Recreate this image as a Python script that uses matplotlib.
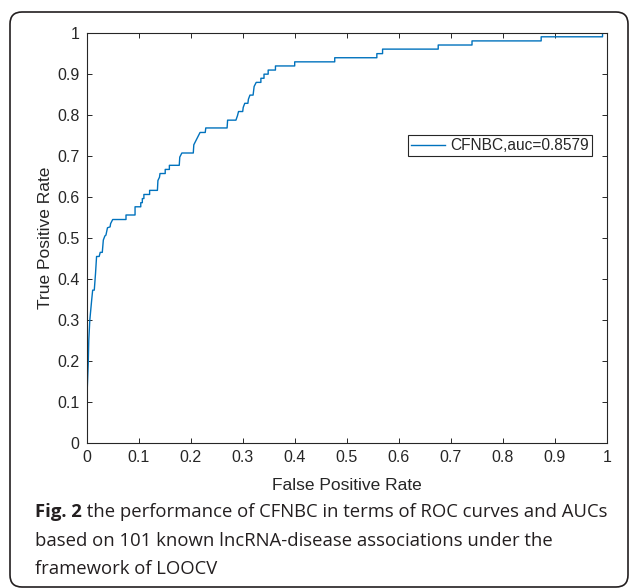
import matplotlib
matplotlib.use("Agg")
import matplotlib.pyplot as plt
from matplotlib.patches import FancyBboxPatch
from matplotlib.ticker import FormatStrFormatter

# ROC curve vertices (false positive rate, true positive rate)
fpr = [0.0, 0.001, 0.003, 0.004, 0.006, 0.0096, 0.0115, 0.0146, 0.017, 0.019,
       0.024, 0.026, 0.030, 0.032, 0.035, 0.037, 0.040, 0.045, 0.046, 0.050,
       0.0756, 0.0756, 0.093, 0.093, 0.104, 0.104, 0.107, 0.107, 0.110, 0.110,
       0.121, 0.121, 0.136, 0.137, 0.140, 0.141, 0.151, 0.151, 0.159, 0.159,
       0.178, 0.179, 0.183, 0.205, 0.206, 0.210, 0.214, 0.218, 0.228, 0.229,
       0.270, 0.271, 0.287, 0.290, 0.292, 0.300, 0.301, 0.304, 0.310, 0.311,
       0.314, 0.320, 0.322, 0.326, 0.335, 0.335, 0.341, 0.341, 0.349, 0.349,
       0.363, 0.363, 0.400, 0.400, 0.477, 0.477, 0.558, 0.558, 0.569, 0.569,
       0.676, 0.676, 0.741, 0.741, 0.874, 0.874, 0.992, 0.992, 1.0]
tpr = [0.0, 0.13, 0.195, 0.25, 0.30, 0.349, 0.373, 0.373, 0.414, 0.455,
       0.455, 0.465, 0.465, 0.495, 0.505, 0.507, 0.525, 0.527, 0.535, 0.545,
       0.545, 0.556, 0.556, 0.576, 0.576, 0.586, 0.586, 0.596, 0.596, 0.606,
       0.606, 0.616, 0.616, 0.640, 0.648, 0.657, 0.657, 0.667, 0.667, 0.677,
       0.677, 0.697, 0.707, 0.707, 0.727, 0.737, 0.747, 0.757, 0.757, 0.768,
       0.768, 0.787, 0.787, 0.798, 0.808, 0.808, 0.818, 0.828, 0.828, 0.838,
       0.848, 0.848, 0.869, 0.879, 0.879, 0.889, 0.889, 0.899, 0.899, 0.909,
       0.909, 0.919, 0.919, 0.929, 0.929, 0.939, 0.939, 0.949, 0.949, 0.960,
       0.960, 0.970, 0.970, 0.980, 0.980, 0.990, 0.990, 1.0, 1.0]
legend_label = 'CFNBC,auc=0.8579'
ticks = [0, 0.1, 0.2, 0.3, 0.4, 0.5, 0.6, 0.7, 0.8, 0.9, 1]

grey = '#262626'
plt.rcParams['font.family'] = ['Liberation Sans', 'DejaVu Sans']

fig = plt.figure(figsize=(6.3, 5.88), dpi=100)
ax = fig.add_axes([0.1376, 0.2461, 0.8254, 0.6983])

ax.plot(fpr, tpr, color='#0072BD', lw=1.0, label=legend_label)

ax.set_xlim(0, 1)
ax.set_ylim(0, 1)
ax.set_xticks(ticks)
ax.set_yticks(ticks)
ax.xaxis.set_major_formatter(FormatStrFormatter('%g'))
ax.yaxis.set_major_formatter(FormatStrFormatter('%g'))
ax.tick_params(direction='in', length=3.5, width=0.7, colors=grey,
               labelsize=11.5, top=True, right=True, pad=5)
for s in ax.spines.values():
    s.set_color(grey)
    s.set_linewidth(0.8)

ax.set_xlabel('False Positive Rate', fontsize=12.5, color=grey, labelpad=9)
ax.set_ylabel('True Positive Rate', fontsize=12.5, color=grey, labelpad=3)

leg = ax.legend(loc='upper left', bbox_to_anchor=(0.618, 0.751), borderaxespad=0,
                fancybox=False, fontsize=11.2, handlelength=2.2,
                handletextpad=0.3, borderpad=0.2, framealpha=1)
leg.get_frame().set_edgecolor(grey)
leg.get_frame().set_linewidth(0.8)
for t in leg.get_texts():
    t.set_color(grey)

# rounded frame round the whole figure
frame = FancyBboxPatch((0.10, 0.01), 6.18, 5.75, boxstyle='round,pad=0,rounding_size=0.12',
                       transform=fig.dpi_scale_trans, fill=False, ec='#231f20', lw=1.2)
fig.patches.append(frame)

# caption
cap_font = ['Open Sans', 'DejaVu Sans']
cap_size = 13.3
x0 = 35 / 630
lines_y = [1 - 517 / 588, 1 - 545.5 / 588, 1 - 574 / 588]
bold = fig.text(x0, lines_y[0], 'Fig. 2', fontsize=cap_size, fontweight='bold',
                family=cap_font, color='#231f20', va='baseline')
fig.canvas.draw()
bb = bold.get_window_extent(fig.canvas.get_renderer())
fig.text(bb.x1 / fig.bbox.width, lines_y[0],
         ' the performance of CFNBC in terms of ROC curves and AUCs',
         fontsize=cap_size, family=cap_font, color='#231f20', va='baseline')
fig.text(x0, lines_y[1], 'based on 101 known lncRNA-disease associations under the',
         fontsize=cap_size, family=cap_font, color='#231f20', va='baseline')
fig.text(x0, lines_y[2], 'framework of LOOCV',
         fontsize=cap_size, family=cap_font, color='#231f20', va='baseline')

fig.savefig('out.png', dpi=100)
